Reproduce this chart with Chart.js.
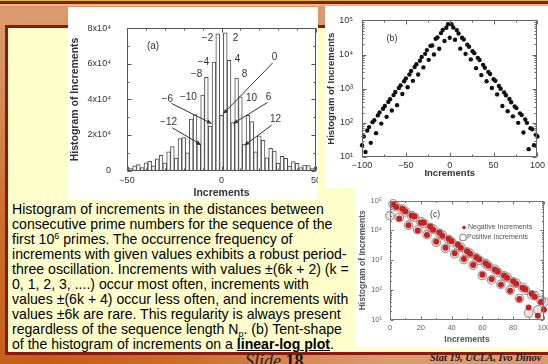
<!DOCTYPE html>
<html><head><meta charset="utf-8">
<script src="https://cdn.jsdelivr.net/npm/chart.js@4.4.1/dist/chart.umd.min.js"></script>
<style>
html,body{margin:0;padding:0;}
body{width:548px;height:364px;position:relative;overflow:hidden;
 background:radial-gradient(ellipse 62% 95% at 8% 100%, #c45c16 0%, #cc6f2e 45%, #d68d5c 80%, #da9a6e 100%);
 font-family:'Liberation Sans',Arial,sans-serif;}
.abs{position:absolute;}
#s1{left:0;top:0;width:548px;height:1px;background:#dcb450;}
#s2{left:0;top:1px;width:548px;height:3px;background:#8a1c0e;}
#s3{left:0;top:4px;width:548px;height:2px;background:#f2b384;}
#box{left:5px;top:25px;width:600px;height:324px;background:#ffffcc;border-left:3px solid #8c1a10;border-top:3px solid #8c1a10;border-bottom:3px solid #8c1a10;}
#txt{left:12px;top:201.5px;font-size:14.1px;line-height:15.1px;color:#000;white-space:nowrap;}
#txt sup{font-size:9px;vertical-align:5px;line-height:0;}
#txt sub{font-size:9px;vertical-align:-3px;line-height:0;}
.panel{background:#fff;overflow:hidden;}
.panel canvas{filter:blur(0.3px);}
#pa{left:68px;top:7px;width:250px;height:193px;}
#pb{left:325px;top:6px;width:223px;height:182px;}
#pc{left:355px;top:188px;width:193px;height:159px;}
#slide{left:245px;top:351px;font-family:'Liberation Serif','Times New Roman',serif;font-size:18px;color:#1a1a1a;white-space:nowrap;}
#slide i{font-style:italic;}
#stat{left:430px;top:352px;font-family:'Liberation Serif','Times New Roman',serif;font-size:10.5px;font-weight:bold;font-style:italic;color:#1a1a1a;white-space:nowrap;}
</style></head>
<body>
<div id="s1" class="abs"></div><div id="s2" class="abs"></div><div id="s3" class="abs"></div>
<div id="box" class="abs"></div>
<div id="txt" class="abs">
<div>Histogram of increments in the distances between</div>
<div>consecutive prime numbers for the sequence of the</div>
<div>first 10<sup>6</sup> primes. The occurrence frequency of</div>
<div>increments with given values exhibits a robust period-</div>
<div>three oscillation. Increments with values ±(6k + 2) (k =</div>
<div>0, 1, 2, 3, ....) occur most often, increments with</div>
<div>values ±(6k + 4) occur less often, and increments with</div>
<div>values ±6k are rare. This regularity is always present</div>
<div>regardless of the sequence length N<sub>p</sub>. (b) Tent-shape</div>
<div>of the histogram of increments on a <b><u>linear-log plot</u></b>.</div>
</div>
<div id="pa" class="abs panel"><canvas id="ca" width="268" height="193"></canvas></div>
<div id="pb" class="abs panel"><canvas id="cb" width="223" height="182"></canvas></div>
<div id="pc" class="abs panel"><canvas id="cc" width="205" height="159"></canvas></div>
<div id="slide" class="abs"><i>Slide</i> <b>18</b></div>
<div id="stat" class="abs">Stat 19, UCLA, Ivo Dinov</div>
<script>
// ---------------- data ----------------
const increments = [0,2,4,6,8,10,12,14,16,18,20,22,24,26,28,30,32,34,36,38,40,42,44,46,48,50,52,54,56,58,60,62,64,66,68,70,72,74,76,78,80,82,84,86,88,90,92,94,96,98,100];
const negCounts = [null,77000,61000,25000,52500,42500,14800,31500,29000,10000,18500,18000,7000,13500,10500,4200,8500,6600,2600,5200,4300,1700,3300,2600,1100,2000,1650,700,1250,1050,330,800,650,230,490,410,150,310,260,95,200,165,50,120,105,26,75,60,14,40,22];
const posCounts = [31000,77500,62000,27000,52000,41500,14900,31000,27500,10500,19500,17000,7200,12500,11000,4000,8000,6900,2500,5000,4100,1650,3100,2700,1050,1900,1700,680,1200,1000,310,780,640,220,500,400,155,300,270,100,190,170,52,125,100,17,70,65,22,45,40];
const seriesLabels = ['Negative Increments','Positive Increments'];
// axis ticks
const linTicksA = [0,20000,40000,60000,80000];
const linTickLabelsA = ['0','2x10⁴','4x10⁴','6x10⁴','8x10⁴'];
const logTicks = [10,100,1000,10000,100000];
const logTickLabels = ['10¹','10²','10³','10⁴','10⁵'];
const logMinor = [20,30,40,50,60,70,80,90,200,300,400,500,600,700,800,900,2000,3000,4000,5000,6000,7000,8000,9000,20000,30000,40000,50000,60000,70000,80000,90000];
// annotations of panel (a), in data units
const noteText = ['−2','2','−4','4','−8','8','0','−10','10','6','−6','−12','12'];
const noteX = [-7.4,7.4,-9.5,8.5,-13.2,12.2,28,-17.5,15.9,24.9,-28.6,-28,28.6];
const noteY = [74300,74300,61000,62500,54000,54000,63500,41400,40900,41400,40300,27000,29000];
const arrowX0 = [27,24.3,-26.5,-26,26.5];
const arrowY0 = [60500,38300,37800,24000,25500];
const arrowX1 = [1,6.3,-5.3,-11,12.2];
const arrowY1 = [32000,26500,26500,14700,14200];

// ---------------- helpers ----------------
const FF = "'Liberation Sans', Arial, Helvetica, sans-serif";
Chart.defaults.font.family = FF;
Chart.defaults.animation = false;
const signed = v => v < 0 ? '−' + (-v) : '' + v;
const fullSeries = () => {
  const pts = [];
  for (let i = increments.length - 1; i >= 1; i--) if (negCounts[i] != null) pts.push({x: -increments[i], y: negCounts[i]});
  for (let i = 0; i < increments.length; i++) if (posCounts[i] != null) pts.push({x: increments[i], y: posCounts[i]});
  return pts;
};

const framePlugin = {
  id: 'frame',
  afterDatasetsDraw(chart, args, o) {
    const {ctx, chartArea: a} = chart;
    const xs = chart.scales.x, ys = chart.scales.y;
    ctx.save();
    ctx.strokeStyle = o.color; ctx.lineWidth = 1;
    const L = Math.round(a.left) + 0.5, R = Math.round(a.right) - 0.5, T = Math.round(a.top) + 0.5, B = Math.round(a.bottom) - 0.5;
    ctx.strokeRect(L, T, R - L, B - T);
    const seg = (x1, y1, x2, y2) => { ctx.beginPath(); ctx.moveTo(x1, y1); ctx.lineTo(x2, y2); ctx.stroke(); };
    const xt = (v, len) => { const p = Math.round(xs.getPixelForValue(v)) + 0.5; seg(p, B, p, B - len); seg(p, T, p, T + len); };
    const yt = (v, len) => { const p = Math.round(ys.getPixelForValue(v)) + 0.5; seg(L, p, L + len, p); seg(R, p, R - len, p); };
    (o.xMinor || []).forEach(v => xt(v, o.minor));
    xs.ticks.forEach(t => xt(t.value, o.major));
    (o.yMinor || []).forEach(v => yt(v, o.minor));
    ys.ticks.forEach(t => yt(t.value, o.major));
    if (o.tag) {
      ctx.fillStyle = '#333'; ctx.font = o.tagFont; ctx.textAlign = 'center'; ctx.textBaseline = 'middle';
      ctx.fillText(o.tag, a.left + o.tagDX, a.top + o.tagDY);
    }
    ctx.restore();
  }
};

const notePlugin = {
  id: 'notes',
  afterDatasetsDraw(chart, args, o) {
    if (!o.on) return;
    const {ctx} = chart; const xs = chart.scales.x, ys = chart.scales.y;
    ctx.save();
    ctx.font = '10px ' + FF; ctx.fillStyle = '#333'; ctx.textAlign = 'center'; ctx.textBaseline = 'middle';
    noteText.forEach((t, i) => ctx.fillText(t, xs.getPixelForValue(noteX[i]), ys.getPixelForValue(noteY[i])));
    ctx.strokeStyle = '#333'; ctx.lineWidth = 1;
    arrowX0.forEach((_, i) => {
      const x0 = xs.getPixelForValue(arrowX0[i]), y0 = ys.getPixelForValue(arrowY0[i]);
      const x1 = xs.getPixelForValue(arrowX1[i]), y1 = ys.getPixelForValue(arrowY1[i]);
      ctx.beginPath(); ctx.moveTo(x0, y0); ctx.lineTo(x1, y1); ctx.stroke();
      const ang = Math.atan2(y1 - y0, x1 - x0), h = 5, w = 0.45;
      ctx.beginPath(); ctx.moveTo(x1, y1);
      ctx.lineTo(x1 - h * Math.cos(ang - w), y1 - h * Math.sin(ang - w));
      ctx.lineTo(x1 - h * Math.cos(ang + w), y1 - h * Math.sin(ang + w));
      ctx.closePath(); ctx.fill();
    });
    ctx.restore();
  }
};

const legendPlugin = {
  id: 'miniLegend',
  afterDatasetsDraw(chart, args, o) {
    if (!o.on) return;
    const {ctx, chartArea: a} = chart;
    ctx.save();
    ctx.font = '7px ' + FF; ctx.fillStyle = '#555'; ctx.textAlign = 'left'; ctx.textBaseline = 'middle';
    const x = a.left + 73, y1 = a.top + 27, y2 = a.top + 37;
    ctx.fillStyle = '#cc2222'; ctx.beginPath(); ctx.arc(x + 1, y1, 1.8, 0, 2 * Math.PI); ctx.fill();
    ctx.strokeStyle = '#8a8a8a'; ctx.lineWidth = 1.1; ctx.beginPath(); ctx.arc(x, y2, 3.3, 0, 2 * Math.PI); ctx.stroke();
    ctx.fillStyle = '#555';
    ctx.fillText(chart.data.datasets[0].label, x + 5, y1);
    ctx.fillText(chart.data.datasets[1].label, x + 4, y2);
    ctx.restore();
  }
};
Chart.register(framePlugin, notePlugin, legendPlugin);

const axisBase = (fontSize, color) => ({
  grid: {display: false, drawTicks: false},
  border: {display: false},
  ticks: {font: {size: fontSize}, color: color, maxRotation: 0, autoSkip: false}
});

// ---------------- chart (a) ----------------
const barPts = fullSeries().filter(p => Math.abs(p.x) <= 50);
new Chart(document.getElementById('ca'), {
  type: 'bar',
  data: {datasets: [{data: barPts, backgroundColor: '#ffffff', borderColor: '#4a4a4a', borderWidth: 1,
    barPercentage: 1, categoryPercentage: 1}]},
  options: {
    responsive: false, events: [],
    layout: {padding: {top: 8, right: 20, left: 0, bottom: 0}},
    plugins: {legend: {display: false}, tooltip: {enabled: false},
      frame: {color: '#555', major: 4, minor: 2, xMinor: [-40,-30,-20,-10,10,20,30,40], yMinor: [10000,30000,50000,70000],
        tag: '(a)', tagFont: '10px ' + FF, tagDX: 26, tagDY: 18},
      notes: {on: true}, miniLegend: {on: false}},
    scales: {
      x: Object.assign(axisBase(9, '#333'), {type: 'linear', min: -50, max: 50, offset: false,
        ticks: {font: {size: 9}, color: '#333', stepSize: 50, padding: 5, maxRotation: 0, callback: v => signed(v)},
        title: {display: true, text: 'Increments', font: {size: 10.5, weight: 'bold'}, color: '#333', padding: {top: 0, bottom: 0.5}},
        afterFit: s => { s.height = 29.5; }}),
      y: Object.assign(axisBase(9, '#333'), {min: 0, max: 80000,
        ticks: {font: {size: 9}, color: '#333', padding: 16, callback: (v, i) => linTickLabelsA[i]},
        afterBuildTicks: s => { s.ticks = linTicksA.map(v => ({value: v})); },
        title: {display: true, text: 'Histogram of Increments', font: {size: 10.5, weight: 'bold'}, color: '#333', padding: {top: 1, bottom: 0}},
        afterFit: s => { s.width = 59; }})
    }
  }
});

// ---------------- chart (b) ----------------
new Chart(document.getElementById('cb'), {
  type: 'scatter',
  data: {datasets: [{data: fullSeries(), pointRadius: 2.2, pointBackgroundColor: '#111', pointBorderWidth: 0, clip: false}]},
  options: {
    responsive: false, events: [],
    layout: {padding: {top: 9, right: 10, left: 0, bottom: 0}},
    plugins: {legend: {display: false}, tooltip: {enabled: false},
      frame: {color: '#666', major: 4, minor: 2, xMinor: [-75,-25,25,75], yMinor: logMinor,
        tag: '(b)', tagFont: '9px ' + FF, tagDX: 30, tagDY: 18},
      notes: {on: false}, miniLegend: {on: false}},
    scales: {
      x: Object.assign(axisBase(9, '#333'), {type: 'linear', min: -100, max: 100,
        ticks: {font: {size: 9}, color: '#333', stepSize: 50, padding: 3, maxRotation: 0, callback: v => signed(v)},
        title: {display: true, text: 'Increments', font: {size: 9.5, weight: 'bold'}, color: '#333', padding: {top: 0, bottom: 9}},
        afterFit: s => { s.height = 31; }}),
      y: Object.assign(axisBase(9, '#333'), {type: 'logarithmic', min: 10, max: 100000,
        ticks: {font: {size: 9}, color: '#333', padding: 9, callback: (v, i) => logTickLabels[i]},
        afterBuildTicks: s => { s.ticks = logTicks.map(v => ({value: v})); },
        title: {display: true, text: 'Histogram of Increments', font: {size: 9.5, weight: 'bold'}, color: '#333', padding: {top: 1, bottom: 0}},
        afterFit: s => { s.width = 37; }})
    }
  }
});

// ---------------- chart (c) ----------------
const negPts = increments.map((n, i) => ({x: n, y: negCounts[i]})).filter(p => p.y != null);
const posPts = increments.map((n, i) => ({x: n, y: posCounts[i]})).filter(p => p.y != null);
new Chart(document.getElementById('cc'), {
  type: 'scatter',
  data: {datasets: [
    {label: seriesLabels[0], data: negPts, pointRadius: 3, pointBackgroundColor: '#c82020', pointBorderWidth: 0, clip: false},
    {label: seriesLabels[1], data: posPts, pointRadius: 4.3, pointBackgroundColor: 'rgba(215,170,170,0.35)', pointBorderColor: '#999', pointBorderWidth: 1.1, clip: false}
  ]},
  options: {
    responsive: false, events: [],
    layout: {padding: {top: 7, right: 16, left: 0, bottom: 0}},
    plugins: {legend: {display: false}, tooltip: {enabled: false},
      frame: {color: '#777', major: 3, minor: 1.5, xMinor: [10,30,50,70,90], yMinor: logMinor,
        tag: '(c)', tagFont: '8.5px ' + FF, tagDX: 45, tagDY: 14},
      notes: {on: false}, miniLegend: {on: true}},
    scales: {
      x: Object.assign(axisBase(7.5, '#666'), {type: 'linear', min: 0, max: 100,
        ticks: {font: {size: 7.5}, color: '#666', stepSize: 20, padding: 3, maxRotation: 0},
        title: {display: true, text: 'Increments', font: {size: 8.5, weight: 'bold'}, color: '#555', padding: {top: 0, bottom: 2}},
        afterFit: s => { s.height = 27; }}),
      y: Object.assign(axisBase(7.5, '#666'), {type: 'logarithmic', min: 10, max: 100000,
        ticks: {font: {size: 7.5}, color: '#666', padding: 8, callback: (v, i) => logTickLabels[i]},
        afterBuildTicks: s => { s.ticks = logTicks.map(v => ({value: v})); },
        title: {display: true, text: 'Histogram of Increments', font: {size: 8.5, weight: 'bold'}, color: '#555', padding: {top: 3, bottom: 0}},
        afterFit: s => { s.width = 35; }})
    }
  }
});
</script>
</body></html>
